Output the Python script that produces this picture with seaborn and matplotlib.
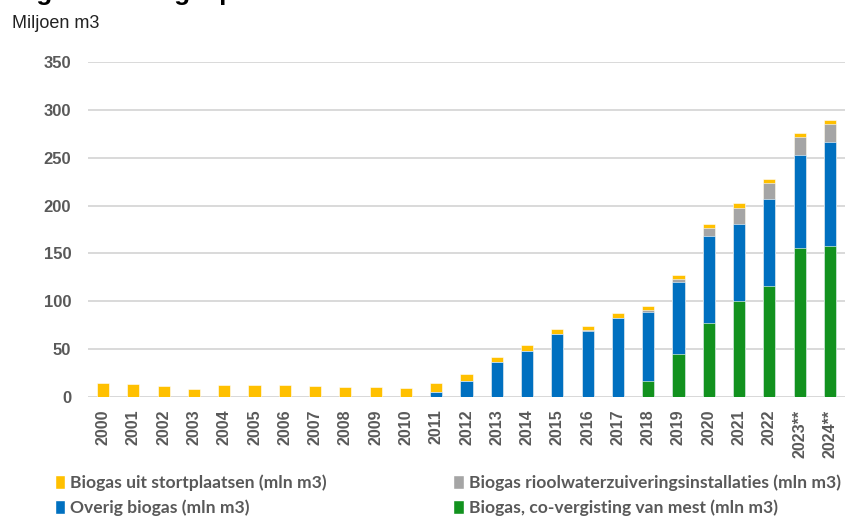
import matplotlib
matplotlib.use("Agg")
import matplotlib.pyplot as plt
from matplotlib.patches import Patch
import seaborn as sns
import pandas as pd
import numpy as np

# Biogas production in the Netherlands, million m3 per year
years = ["2000", "2001", "2002", "2003", "2004", "2005", "2006", "2007", "2008",
         "2009", "2010", "2011", "2012", "2013", "2014", "2015", "2016", "2017",
         "2018", "2019", "2020", "2021", "2022", "2023**", "2024**"]
landfill = [15.0, 13.6, 11.1, 8.4, 12.2, 12.5, 12.5, 11.5, 10.5, 10.5, 9.4, 9.7,
            7.3, 5.2, 7.0, 5.2, 3.5, 4.9, 3.5, 4.2, 4.2, 4.9, 4.6, 3.8, 3.8]
sewage = [0, 0, 0, 0, 0, 0, 0, 0, 0, 0, 0, 0,
          0, 0, 0, 0, 1.3, 0, 2.8, 3.1, 8.7, 16.7, 16.7, 18.8, 18.8]
other = [0, 0, 0, 0, 0, 0, 0, 0, 0, 0, 0, 5.3,
         17.0, 36.3, 47.7, 65.5, 69.0, 82.6, 71.4, 75.3, 90.9, 80.5, 90.9, 96.8, 109.0]
manure = [0, 0, 0, 0, 0, 0, 0, 0, 0, 0, 0, 0,
          0, 0, 0, 0, 0, 0, 17.1, 44.6, 77.0, 100.3, 116.0, 156.1, 157.5]

labels = ["Biogas uit stortplaatsen (mln m3)", "Overig biogas (mln m3)",
          "Biogas rioolwaterzuiveringsinstallaties (mln m3)",
          "Biogas, co-vergisting van mest (mln m3)"]

c_landfill = "#FFC000"
c_sewage = "#A5A5A5"
c_other = "#0070C0"
c_manure = "#12921E"

sns.set_theme(style="white")
plt.rcParams["font.family"] = ["Liberation Sans", "DejaVu Sans"]

df = pd.DataFrame({"year": years, "landfill": landfill, "sewage": sewage,
                   "other": other, "manure": manure})
# cumulative heights, stacked bottom-to-top: manure, other, sewage, landfill
df["top_manure"] = df["manure"]
df["top_other"] = df["top_manure"] + df["other"]
df["top_sewage"] = df["top_other"] + df["sewage"]
df["top_landfill"] = df["top_sewage"] + df["landfill"]

fig = plt.figure(figsize=(8.47, 5.17), dpi=100)
ax = fig.add_axes([88 / 847, 1 - 397 / 517, 757 / 847, 335 / 517])

layers = [("top_landfill", c_landfill), ("top_sewage", c_sewage),
          ("top_other", c_other), ("top_manure", c_manure)]
for col, color in layers:
    sns.barplot(data=df, x="year", y=col, color=color, width=0.4,
                edgecolor="white", linewidth=0.4, saturation=1,
                ax=ax, zorder=3)

ax.set_ylim(0, 350)
ax.set_xlim(-0.5, len(years) - 0.5)
ax.set_yticks(np.arange(0, 351, 50))
ax.set_xlabel("")
ax.set_ylabel("")
ax.yaxis.grid(True, color="#D9D9D9", linewidth=1.4, zorder=0)
ax.xaxis.grid(False)
for s in ax.spines.values():
    s.set_visible(False)
ax.axhline(0, color="#D9D9D9", linewidth=1.4, zorder=1)
ax.tick_params(axis="y", length=0, pad=12, labelsize=12, labelcolor="#595959")
ax.tick_params(axis="x", length=0, pad=9, labelsize=11.5, labelcolor="#595959")
for t in ax.get_yticklabels():
    t.set_fontweight("bold")
ax.set_xticks(range(len(years)))
ax.set_xticklabels(years, rotation=90, fontweight="bold", va="top", ha="center")

fig.text(13 / 847, 1 - 0.3 / 517, "Figuur 1: Biogasproductie in Nederland",
         fontsize=18.7, fontweight="bold", color="black", va="baseline", ha="left")
fig.text(12 / 847, 1 - 23 / 517, "Miljoen m3", fontsize=13, color="#222222",
         va="center", ha="left")

handles = [Patch(facecolor=c_landfill), Patch(facecolor=c_other),
           Patch(facecolor=c_sewage), Patch(facecolor=c_manure)]
leg = fig.legend(handles, labels, ncol=2, loc="lower left",
                 bbox_to_anchor=(39 / 847, -15 / 517), frameon=False,
                 prop={"family": ["Lato", "DejaVu Sans"], "weight": "bold", "size": 12.6},
                 handlelength=0.6, handleheight=0.85, handletextpad=0.3,
                 columnspacing=7.2, labelspacing=0.5)
for t in leg.get_texts():
    t.set_color("#595959")

fig.savefig("out.png", dpi=100)
